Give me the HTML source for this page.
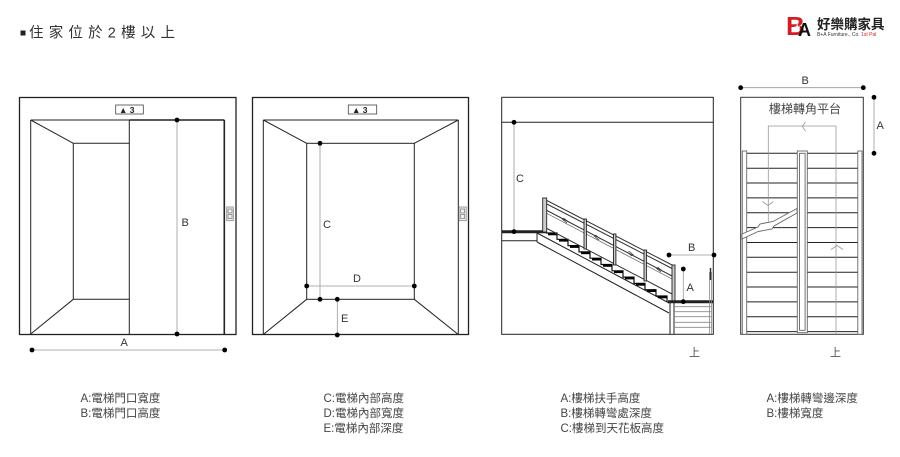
<!DOCTYPE html>
<html><head><meta charset="utf-8">
<style>
html,body{margin:0;padding:0;background:#fff;}
body{width:900px;height:457px;overflow:hidden;position:relative;font-family:"Liberation Sans","Noto Sans CJK TC",sans-serif;}
svg{position:absolute;left:0;top:0;}
</style></head>
<body>
<svg width="900" height="457" viewBox="0 0 900 457" xmlns="http://www.w3.org/2000/svg" font-family="Liberation Sans, Noto Sans CJK TC, sans-serif">
<!-- title -->
<rect x="20.5" y="30.5" width="5" height="5" fill="#222"/>
<text x="29" y="37.5" font-size="14.5" fill="#333" letter-spacing="5.2">住家位於2樓以上</text>

<!-- logo -->
<text x="786" y="35" font-size="26" font-weight="bold" fill="#d21f26" font-family="Liberation Sans, sans-serif">B</text>
<text x="798" y="36" font-size="18" font-weight="bold" fill="#111" font-family="Liberation Sans, sans-serif">A</text>
<text x="794" y="31" font-size="11" font-weight="bold" fill="#fff" font-family="Liberation Sans, sans-serif">+</text>
<text x="817" y="29" font-size="13.5" font-weight="bold" fill="#222" font-family="Noto Sans CJK TC, sans-serif">好樂購家具</text>
<text x="817" y="36" font-size="5" fill="#333">B+A Furniture., Co. <tspan fill="#d21f26">1st Pal</tspan></text>

<g fill="none" stroke="#222" stroke-width="1">
<!-- ===== Elevator 1 ===== -->
<rect x="19.5" y="97.5" width="216.5" height="237" stroke-width="1.3"/>
<line x1="30.7" y1="120" x2="224.3" y2="120"/>
<line x1="30.7" y1="120" x2="30.7" y2="334"/>
<line x1="30.7" y1="120" x2="73.3" y2="143.3"/>
<line x1="30.7" y1="334" x2="73.3" y2="299.3"/>
<polyline points="129.3,143.3 73.3,143.3 73.3,299.3 129.3,299.3"/>
<line x1="129.3" y1="120" x2="129.3" y2="334"/>
<line x1="224.3" y1="120" x2="224.3" y2="334" stroke-width="1.6"/>
<line x1="129.3" y1="120" x2="224.3" y2="120" stroke-width="1.4"/>
<rect x="115.7" y="105" width="27.6" height="9" stroke="#444" stroke-width="0.8"/>
<rect x="226.7" y="207" width="6.6" height="13.7" stroke="#888" stroke-width="0.8" fill="#eee"/>
<rect x="228" y="209" width="4" height="4" stroke="#666" stroke-width="0.6"/>
<rect x="228" y="214.5" width="4" height="4" stroke="#666" stroke-width="0.6"/>

<!-- ===== Elevator 2 ===== -->
<rect x="252.5" y="97.5" width="216" height="237" stroke-width="1.3"/>
<line x1="263.3" y1="120" x2="458.3" y2="120"/>
<line x1="263.3" y1="120" x2="263.3" y2="334.5"/>
<line x1="458.3" y1="120" x2="458.3" y2="334.5"/>
<rect x="306.7" y="143.3" width="107.6" height="156"/>
<line x1="263.3" y1="120" x2="306.7" y2="143.3"/>
<line x1="458.3" y1="120" x2="414.3" y2="143.3"/>
<line x1="263.3" y1="334.5" x2="306.7" y2="299.3"/>
<line x1="458.3" y1="334.5" x2="414.3" y2="299.3"/>
<rect x="348.3" y="105" width="28.4" height="9" stroke="#444" stroke-width="0.8"/>
<rect x="459" y="207" width="7.2" height="13.7" stroke="#888" stroke-width="0.8" fill="#eee"/>
<rect x="460.6" y="209" width="4" height="4" stroke="#666" stroke-width="0.6"/>
<rect x="460.6" y="214.5" width="4" height="4" stroke="#666" stroke-width="0.6"/>

<!-- ===== Stair side ===== -->
<rect x="501.7" y="97.3" width="211.6" height="237"/>
<line x1="501.7" y1="122.3" x2="713.3" y2="122.3"/>
<line x1="501.7" y1="231.7" x2="546" y2="231.7" stroke-width="3"/>
<line x1="501.7" y1="240.7" x2="537" y2="240.7"/>
<!-- stringer -->
<line x1="537" y1="233" x2="669" y2="303"/>
<line x1="537" y1="242" x2="669" y2="313"/>
<line x1="537" y1="233" x2="537" y2="242"/>
<line x1="670" y1="301" x2="670" y2="334"/>
<line x1="674" y1="301" x2="674" y2="334"/>
<!-- steps -->
<polyline points="546,233 557,233 557,239.3 568,239.3 568,245.6 579,245.6 579,251.9 590,251.9 590,258.2 601,258.2 601,264.5 612,264.5 612,270.8 623,270.8 623,277.1 634,277.1 634,283.4 645,283.4 645,289.7 656,289.7 656,296 667,296 667,301.7" stroke="#111" stroke-width="1.2"/>
<g stroke="#000" stroke-width="2.6">
<line x1="548" y1="234" x2="557" y2="234"/><line x1="559" y1="240.3" x2="568" y2="240.3"/>
<line x1="570" y1="246.6" x2="579" y2="246.6"/><line x1="581" y1="252.9" x2="590" y2="252.9"/>
<line x1="592" y1="259.2" x2="601" y2="259.2"/><line x1="603" y1="265.5" x2="612" y2="265.5"/>
<line x1="614" y1="271.8" x2="623" y2="271.8"/><line x1="625" y1="278.1" x2="634" y2="278.1"/>
<line x1="636" y1="284.4" x2="645" y2="284.4"/><line x1="647" y1="290.7" x2="656" y2="290.7"/>
<line x1="658" y1="297" x2="667" y2="297"/>
</g>
<!-- railing -->
<line x1="543" y1="198.5" x2="675" y2="266.5" stroke="#333"/>
<line x1="543" y1="202" x2="675" y2="270" stroke="#333"/>
<line x1="546" y1="210" x2="673" y2="276.5" stroke="#333"/>
<line x1="546" y1="213" x2="673" y2="279.5" stroke="#555" stroke-width="0.7"/>
<line x1="546" y1="228" x2="672" y2="294" stroke="#333"/>
<g fill="#ccc" stroke="#222" stroke-width="0.9">
<rect x="542.7" y="198" width="4" height="34"/>
<rect x="584" y="219" width="2.4" height="30"/>
<rect x="613.5" y="234" width="2.4" height="31"/>
<rect x="644" y="250" width="2.4" height="31"/>
<rect x="672" y="265" width="3" height="36"/>
</g>
<g stroke="#333" stroke-width="0.8">
<line x1="562" y1="219" x2="567" y2="223"/><line x1="563.5" y1="218" x2="568.5" y2="222"/>
<line x1="594" y1="236" x2="599" y2="240"/><line x1="595.5" y1="235" x2="600.5" y2="239"/>
<line x1="627" y1="252" x2="632" y2="256"/><line x1="628.5" y1="251" x2="633.5" y2="255"/>
<line x1="656" y1="268" x2="661" y2="272"/><line x1="657.5" y1="267" x2="662.5" y2="271"/>
</g>
<line x1="668" y1="301.7" x2="713.3" y2="301.7" stroke-width="3"/>
<g stroke="#888" stroke-width="0.8">
<line x1="674" y1="306.7" x2="711" y2="306.7"/><line x1="674" y1="311.7" x2="711" y2="311.7"/>
<line x1="674" y1="316.7" x2="711" y2="316.7"/><line x1="674" y1="322.3" x2="711" y2="322.3"/>
<line x1="674" y1="327.3" x2="711" y2="327.3"/>
<line x1="709.5" y1="272" x2="709.5" y2="334"/><line x1="711.5" y1="272" x2="711.5" y2="334"/>
</g>
<line x1="710.5" y1="268" x2="710.5" y2="280" stroke="#333" stroke-width="1.5"/>

<!-- ===== Stair plan ===== -->
<rect x="740.7" y="97.3" width="122.6" height="237" stroke="#333"/>
<g stroke="#222">
<line x1="742" y1="153.3" x2="862" y2="153.3"/><line x1="742" y1="168.2" x2="862" y2="168.2"/>
<line x1="742" y1="183" x2="862" y2="183"/><line x1="742" y1="197.9" x2="862" y2="197.9"/>
<line x1="742" y1="212.7" x2="862" y2="212.7"/><line x1="742" y1="227.6" x2="862" y2="227.6"/>
<line x1="742" y1="242.5" x2="862" y2="242.5"/><line x1="742" y1="257.3" x2="862" y2="257.3"/>
<line x1="742" y1="272.2" x2="862" y2="272.2"/><line x1="742" y1="287" x2="862" y2="287"/>
<line x1="742" y1="301.9" x2="862" y2="301.9"/><line x1="742" y1="316.8" x2="862" y2="316.8"/>
<line x1="742" y1="331.6" x2="862" y2="331.6"/>
</g>
<g stroke="#666" stroke-width="0.9" fill="#fff">
<rect x="742.3" y="151" width="4.4" height="183.3"/>
<rect x="857.8" y="151" width="4.2" height="183.3"/>
<rect x="797.3" y="151" width="10" height="181.7"/>
<rect x="799.5" y="153.3" width="5.6" height="177"/>
</g>
<polyline points="768.3,221.7 768.3,126 836,126 836,334" stroke="#999" stroke-width="0.8"/>
<polyline points="805.5,122 802.3,126.5 805.5,131" stroke="#999" stroke-width="0.8"/>
<polyline points="762.5,201.5 768,205.5 773.5,201.5" stroke="#999" stroke-width="0.8"/>
<polyline points="831,249.5 837,245.5 843,249.5" stroke="#999" stroke-width="0.8"/>
<polygon points="742,234 758,227 760,224 773,221.5 797,208.5 797,213 774,226 772,229 758,231.5 742,239" fill="#fff" stroke="#666" stroke-width="0.9"/>
</g>

<!-- dimension lines -->
<g stroke="#999" stroke-width="0.8">
<line x1="177" y1="120" x2="177" y2="334"/>
<line x1="32" y1="350" x2="224.7" y2="350"/>
<line x1="320" y1="143.3" x2="320" y2="299.3"/>
<line x1="306.7" y1="286" x2="414.3" y2="286"/>
<line x1="337.3" y1="299.3" x2="337.3" y2="335"/>
<line x1="514" y1="122.3" x2="514" y2="231.7"/>
<line x1="669" y1="255" x2="714" y2="255"/>
<line x1="683.3" y1="269" x2="683.3" y2="301.7"/>
<line x1="740.7" y1="87.7" x2="863.3" y2="87.7"/>
<line x1="874" y1="97.3" x2="874" y2="153.3"/>
</g>
<g fill="#000">
<circle cx="177" cy="120" r="2.4"/><circle cx="177" cy="334" r="2.4"/>
<circle cx="32" cy="350" r="2.4"/><circle cx="224.7" cy="350" r="2.4"/>
<circle cx="320" cy="143.3" r="2.4"/><circle cx="320" cy="299.3" r="2.4"/>
<circle cx="306.7" cy="286" r="2.4"/><circle cx="414.3" cy="286" r="2.4"/>
<circle cx="337.3" cy="299.3" r="2.4"/><circle cx="337.3" cy="335" r="2.4"/>
<circle cx="514" cy="122.3" r="2.4"/><circle cx="514" cy="231.7" r="2.4"/>
<circle cx="669" cy="255" r="2.4"/><circle cx="714" cy="255" r="2.4"/>
<circle cx="683.3" cy="269" r="2.4"/><circle cx="683.3" cy="301.7" r="2.4"/>
<circle cx="740.7" cy="87.7" r="2.4"/><circle cx="863.3" cy="87.7" r="2.4"/>
<circle cx="874" cy="97.3" r="2.4"/><circle cx="874" cy="153.3" r="2.4"/>
</g>

<!-- small labels -->
<g font-size="8.5" font-weight="bold" fill="#222">
<text x="119" y="112.8">▲ 3</text>
<text x="352" y="112.8">▲ 3</text>
</g>
<g font-size="11" fill="#333">
<text x="181.5" y="226">B</text>
<text x="120.5" y="346">A</text>
<text x="323" y="228">C</text>
<text x="353" y="282">D</text>
<text x="341" y="322">E</text>
<text x="516" y="182">C</text>
<text x="688" y="251">B</text>
<text x="686.5" y="291">A</text>
<text x="801.5" y="84">B</text>
<text x="876.5" y="129">A</text>
</g>
<g font-size="11" fill="#555" font-family="Noto Sans CJK TC, sans-serif">
<text x="689" y="356">上</text>
<text x="830" y="356">上</text>
</g>
<text x="805" y="113" font-size="12" fill="#444" text-anchor="middle" font-family="Noto Sans CJK TC, sans-serif">樓梯轉角平台</text>

<!-- legends -->
<g font-size="11.5" fill="#444">
<text x="80.5" y="402">A:電梯門口寬度</text>
<text x="80.5" y="417">B:電梯門口高度</text>
<text x="323.5" y="402">C:電梯內部高度</text>
<text x="323.5" y="417">D:電梯內部寬度</text>
<text x="323.5" y="432">E:電梯內部深度</text>
<text x="560.5" y="402">A:樓梯扶手高度</text>
<text x="560.5" y="417">B:樓梯轉彎處深度</text>
<text x="560.5" y="432">C:樓梯到天花板高度</text>
<text x="766.5" y="402">A:樓梯轉彎邊深度</text>
<text x="766.5" y="417">B:樓梯寬度</text>
</g>
</svg>
</body></html>
